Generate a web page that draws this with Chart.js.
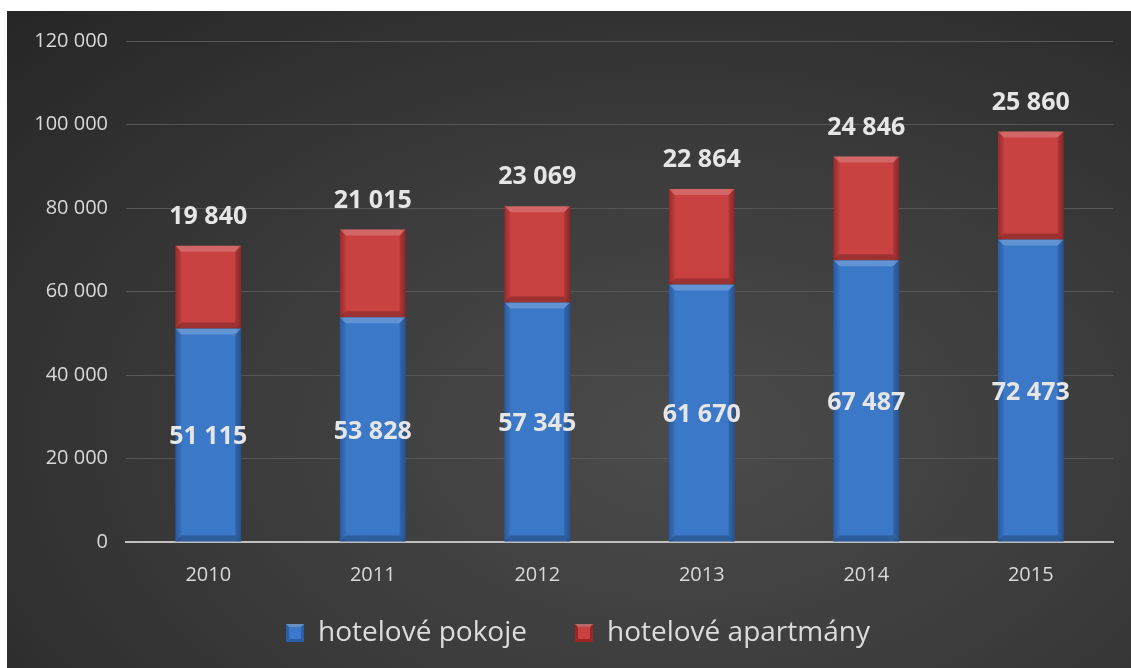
<!DOCTYPE html>
<html>
<head>
<meta charset="utf-8">
<script src="https://cdn.jsdelivr.net/npm/chart.js@4.4.0/dist/chart.umd.min.js"></script>
<style>
    html, body { margin: 0; padding: 0; background: #fff; }
    #wrap {
        position: absolute; left: 7px; top: 11px; width: 1124px; height: 657px;
        background: radial-gradient(ellipse at 60% 65%, #4b4b4b 0%, #3c3c3c 45%, #262626 100%);
    }
</style>
</head>
<body>
<div id="wrap"><canvas id="chart"></canvas></div>
<script>
const years = ['2010', '2011', '2012', '2013', '2014', '2015'];
const rooms = [51115, 53828, 57345, 61670, 67487, 72473];
const apartments = [19840, 21015, 23069, 22864, 24846, 25860];
const seriesNames = ['hotelové pokoje', 'hotelové apartmány'];

const fmt = v => String(v).replace(/\B(?=(\d{3})+(?!\d))/g, ' ');
const family = '"Open Sans", "DejaVu Sans", sans-serif';

function barFill(ctx, dark, mid) {
    if (!ctx.chart.chartArea) return mid;
    const xs = ctx.chart.scales.x;
    const w = xs.getPixelForValue(1) - xs.getPixelForValue(0);
    const x = xs.getPixelForValue(ctx.dataIndex);
    const half = w * 0.2;
    const g = ctx.chart.ctx.createLinearGradient(x - half, 0, x + half, 0);
    g.addColorStop(0, dark);
    g.addColorStop(0.08, mid);
    g.addColorStop(0.92, mid);
    g.addColorStop(1, dark);
    return g;
}

// bevel edges on each bar
const bevel = {
    id: 'bevel',
    afterDatasetsDraw(chart) {
        const c = chart.ctx;
        chart.data.datasets.forEach((ds, i) => {
            chart.getDatasetMeta(i).data.forEach(bar => {
                const l = bar.x - bar.width / 2, r = bar.x + bar.width / 2;
                const t = Math.min(bar.y, bar.base), b = Math.max(bar.y, bar.base);
                const d = 6;
                c.save();
                c.fillStyle = 'rgba(255,255,255,0.2)';
                c.beginPath();
                c.moveTo(l, t); c.lineTo(r, t); c.lineTo(r - d, t + d); c.lineTo(l + d, t + d); c.closePath(); c.fill();
                c.fillStyle = 'rgba(0,0,0,0.08)';
                c.beginPath();
                c.moveTo(l, t); c.lineTo(l + d, t + d); c.lineTo(l + d, b - d); c.lineTo(l, b); c.closePath(); c.fill();
                c.fillStyle = 'rgba(0,0,0,0.16)';
                c.beginPath();
                c.moveTo(r, t); c.lineTo(r - d, t + d); c.lineTo(r - d, b - d); c.lineTo(r, b); c.closePath(); c.fill();
                c.fillStyle = 'rgba(0,0,0,0.22)';
                c.beginPath();
                c.moveTo(l, b); c.lineTo(l + d, b - d); c.lineTo(r - d, b - d); c.lineTo(r, b); c.closePath(); c.fill();
                c.restore();
            });
        });
    }
};

// value labels: blue in middle, red above stack
const valueLabels = {
    id: 'valueLabels',
    afterDatasetsDraw(chart) {
        const c = chart.ctx;
        c.save();
        c.font = 'bold 25px ' + family;
        c.fillStyle = '#e6e6e6';
        c.textAlign = 'center';
        c.textBaseline = 'middle';
        chart.data.datasets.forEach((ds, i) => {
            chart.getDatasetMeta(i).data.forEach((bar, j) => {
                const txt = fmt(ds.data[j]);
                if (i === 0) c.fillText(txt, bar.x, (bar.y + bar.base) / 2 + 2);
                else c.fillText(txt, bar.x, bar.y - 29);
            });
        });
        c.restore();
    }
};

// legend padding is used for both the item gap and the space above;
// give some of the space above back to the plot and nudge the items right
const LEGEND_CUT = 37;
const legendTweak = {
    id: 'legendTweak',
    beforeLayout(chart) {
        const lg = chart.legend;
        if (!lg || lg._tweaked) return;
        const fit = lg.fit.bind(lg);
        lg.fit = function () { fit(); this.height -= LEGEND_CUT; };
        lg._tweaked = true;
    },
    afterLayout(chart) {
        const lg = chart.legend;
        if (!lg) return;
        lg.top -= LEGEND_CUT;
        lg.height += LEGEND_CUT;
        lg.left += 18;
        lg.right += 18;
    }
};

function legendBox(dark, light) {
    const cv = document.createElement('canvas');
    cv.width = 18; cv.height = 18;
    const g = cv.getContext('2d');
    g.fillStyle = dark; g.fillRect(0, 0, 18, 18);
    g.fillStyle = light; g.fillRect(3, 3, 12, 12);
    g.fillStyle = 'rgba(255,255,255,0.3)';
    g.beginPath(); g.moveTo(0, 0); g.lineTo(18, 0); g.lineTo(15, 3); g.lineTo(3, 3); g.closePath(); g.fill();
    return cv;
}

const tickFont = { family: family, size: 20 };

new Chart(document.getElementById('chart'), {
    type: 'bar',
    data: {
        labels: years,
        datasets: [{
            label: seriesNames[0],
            data: rooms,
            backgroundColor: ctx => barFill(ctx, '#2d62ad', '#3b78c8'),
            barPercentage: 0.4,
            categoryPercentage: 1
        }, {
            label: seriesNames[1],
            data: apartments,
            backgroundColor: ctx => barFill(ctx, '#a52e2e', '#c94141'),
            barPercentage: 0.4,
            categoryPercentage: 1
        }]
    },
    options: {
        responsive: true,
        maintainAspectRatio: false,
        animation: false,
        layout: { padding: { top: 20, right: 18, left: 0, bottom: 11 } },
        plugins: {
            tooltip: { enabled: false },
            legend: {
                position: 'bottom',
                labels: {
                    color: '#dcdcdc',
                    font: { family: family, size: 28 },
                    usePointStyle: true,
                    pointStyleWidth: 18,
                    boxHeight: 18,
                    padding: 48,
                    generateLabels: chart => chart.data.datasets.map((ds, i) => ({
                        text: ds.label,
                        datasetIndex: i,
                        pointStyle: i === 0 ? legendBox('#2a5ea8', '#3b78c8') : legendBox('#9c2424', '#c94141'),
                        fontColor: '#dcdcdc',
                        hidden: false,
                        lineWidth: 0
                    }))
                }
            }
        },
        scales: {
            x: {
                stacked: true,
                grid: { display: false, drawTicks: false },
                border: { color: '#bfbfbf', width: 2 },
                ticks: { color: '#d9d9d9', font: tickFont, padding: 21 }
            },
            y: {
                stacked: true,
                min: 0,
                max: 120000,
                afterFit: scale => { scale.width = 119; },
                grid: { color: '#575757', lineWidth: 1, drawTicks: false },
                border: { display: false },
                ticks: {
                    stepSize: 20000,
                    color: '#d9d9d9',
                    font: tickFont,
                    padding: 18,
                    callback: v => fmt(v)
                }
            }
        }
    },
    plugins: [bevel, valueLabels, legendTweak]
});
</script>
</body>
</html>
